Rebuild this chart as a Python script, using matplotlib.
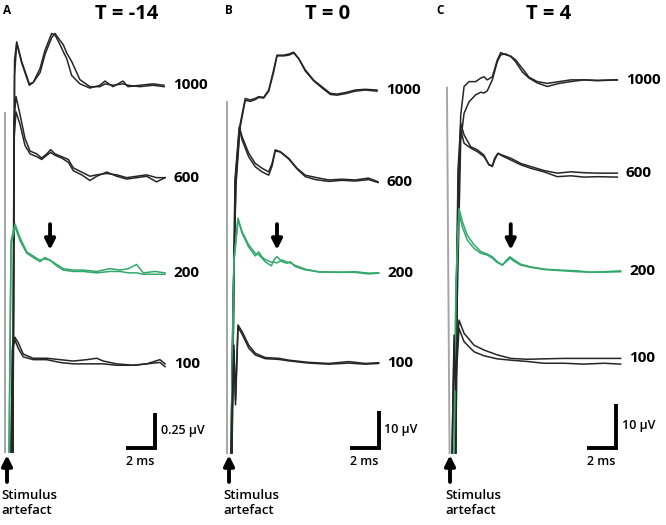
import matplotlib.pyplot as plt

plt.rcParams['font.family'] = ['Open Sans', 'DejaVu Sans']

# time in ms after the stimulus, amplitude in uV above the clipped artefact floor
# ---- panel A, T = -14
A1000_t = [0.41, 0.52, 0.67, 1.01, 1.54, 1.81, 2.28, 2.62, 3.08, 3.31, 3.66, 3.88, 4.12, 4.46, 5.03, 5.72, 6.41, 6.76, 7.31, 8.00, 8.34, 9.17, 10.07, 10.83]
A1000_a = [0.00, 2.80, 2.93, 2.79, 2.63, 2.64, 2.74, 2.87, 2.99, 2.98, 2.91, 2.86, 2.81, 2.69, 2.63, 2.60, 2.62, 2.65, 2.61, 2.65, 2.61, 2.62, 2.63, 2.62]
A1000_b = [0.00, 2.69, 2.92, 2.78, 2.62, 2.64, 2.71, 2.84, 2.96, 2.99, 2.94, 2.91, 2.85, 2.79, 2.66, 2.61, 2.61, 2.63, 2.62, 2.63, 2.62, 2.61, 2.62, 2.61]

A600_t = [0.41, 0.48, 0.62, 0.90, 1.24, 1.59, 2.05, 2.39, 2.74, 3.01, 3.31, 3.77, 4.23, 4.57, 5.15, 5.72, 6.19, 6.88, 7.57, 8.26, 8.94, 9.63, 10.32, 10.90]
A600_a = [0.00, 2.37, 2.54, 2.41, 2.24, 2.15, 2.13, 2.10, 2.13, 2.16, 2.13, 2.11, 2.09, 2.03, 2.00, 1.97, 1.98, 1.99, 1.98, 1.96, 1.97, 1.98, 1.96, 1.96]
A600_b = [0.00, 2.23, 2.43, 2.34, 2.19, 2.13, 2.11, 2.09, 2.12, 2.14, 2.12, 2.10, 2.07, 2.01, 1.98, 1.94, 1.97, 2.00, 1.97, 1.95, 1.96, 1.97, 1.93, 1.96]

A200_t = [0.14, 0.28, 0.55, 0.90, 1.36, 1.81, 2.28, 2.62, 2.97, 3.43, 3.88, 4.57, 5.26, 6.19, 7.10, 7.79, 8.37, 8.94, 9.40, 10.21, 10.90]
A200_a = [0.00, 1.51, 1.63, 1.53, 1.43, 1.40, 1.37, 1.38, 1.37, 1.34, 1.31, 1.30, 1.30, 1.29, 1.31, 1.30, 1.31, 1.34, 1.28, 1.29, 1.28]
A200_b = [0.00, 1.48, 1.61, 1.51, 1.42, 1.39, 1.36, 1.39, 1.37, 1.33, 1.30, 1.29, 1.29, 1.28, 1.29, 1.29, 1.28, 1.28, 1.27, 1.27, 1.27]

A100_t = [0.28, 0.38, 0.55, 0.78, 1.12, 1.81, 2.74, 3.66, 4.57, 5.50, 6.19, 6.64, 7.57, 8.71, 9.63, 10.55, 10.90]
A100_a = [0.00, 0.76, 0.82, 0.78, 0.70, 0.67, 0.67, 0.66, 0.65, 0.66, 0.67, 0.65, 0.63, 0.62, 0.63, 0.66, 0.63]
A100_b = [0.00, 0.73, 0.80, 0.74, 0.68, 0.66, 0.66, 0.64, 0.63, 0.63, 0.63, 0.63, 0.62, 0.62, 0.63, 0.64, 0.61]

A_art_t = [-0.17, -0.17]
A_art_v = [2.42, 0.00]

# ---- panel B, T = 0
B1000_t = [0.14, 0.28, 0.48, 0.76, 1.12, 1.47, 1.81, 2.05, 2.39, 2.74, 3.08, 3.31, 3.77, 4.12, 4.46, 4.81, 5.26, 5.84, 6.41, 6.99, 7.45, 8.02, 8.71, 9.40, 10.21]
B1000_a = [0.0, 41.7, 74.4, 89.4, 96.6, 96.2, 96.6, 97.1, 96.9, 98.9, 104.4, 108.4, 108.4, 108.7, 109.2, 107.5, 104.4, 101.6, 99.8, 98.0, 97.8, 98.2, 98.9, 99.1, 98.9]
B1000_b = [0.0, 40.3, 73.0, 88.6, 96.1, 95.8, 96.3, 96.9, 96.7, 98.6, 103.8, 108.2, 108.2, 108.4, 109.0, 107.4, 104.1, 101.4, 99.5, 97.7, 97.5, 97.9, 98.6, 98.9, 98.6]

B600_t = [0.21, 0.41, 0.71, 0.90, 1.36, 1.81, 2.28, 2.74, 2.97, 3.19, 3.54, 4.12, 4.69, 5.26, 5.95, 6.88, 7.79, 8.71, 9.63, 10.28]
B600_a = [0.0, 74.4, 88.9, 86.2, 81.7, 78.9, 77.6, 76.6, 78.9, 82.6, 82.1, 80.3, 77.6, 75.7, 75.1, 74.4, 74.6, 74.4, 74.9, 73.9]
B600_b = [0.0, 73.0, 88.6, 85.3, 80.7, 78.0, 76.6, 75.7, 78.2, 82.3, 82.0, 80.1, 77.4, 75.3, 74.5, 74.0, 74.3, 74.1, 74.5, 73.7]

B200_t = [0.14, 0.34, 0.62, 0.90, 1.36, 1.81, 2.05, 2.28, 2.50, 2.92, 3.10, 3.31, 3.66, 4.00, 4.23, 4.57, 5.26, 6.19, 7.57, 8.71, 9.63, 10.32]
B200_a = [0.0, 52.6, 64.0, 60.3, 56.7, 54.4, 54.0, 53.1, 52.1, 51.0, 52.6, 53.5, 52.1, 51.7, 52.1, 50.8, 49.9, 49.4, 49.2, 49.4, 49.0, 49.1]
B200_b = [0.0, 52.0, 63.5, 59.9, 56.1, 53.7, 54.8, 53.4, 52.7, 52.0, 52.0, 51.8, 52.6, 52.0, 51.8, 51.1, 50.1, 49.3, 49.3, 49.2, 48.8, 49.0]

B100_t = [0.14, 0.34, 0.45, 0.62, 0.90, 1.36, 1.81, 2.50, 3.43, 4.12, 5.48, 6.88, 8.26, 9.40, 10.32]
B100_a = [0.0, 29.4, 14.4, 34.9, 33.1, 29.4, 27.2, 26.0, 25.8, 25.3, 24.7, 24.4, 24.9, 24.4, 24.6]
B100_b = [0.0, 28.1, 13.1, 34.3, 32.4, 28.6, 26.7, 25.7, 25.5, 25.1, 24.5, 24.2, 24.5, 24.2, 24.4]

B_art_t = [-0.14, -0.14]
B_art_v = [95.6, 0.0]

# ---- panel C, T = 4
C1000_t = [0.41, 0.50, 0.74, 0.97, 1.31, 1.77, 2.12, 2.34, 2.57, 2.92, 3.26, 3.50, 3.84, 4.19, 4.53, 4.99, 5.45, 6.02, 6.71, 7.52, 8.33, 9.24, 10.16, 11.54]
C1000_a = [0.0, 46.1, 76.8, 83.3, 84.4, 84.4, 85.2, 85.5, 84.8, 85.5, 89.3, 91.0, 90.5, 90.2, 89.3, 87.4, 85.4, 84.4, 84.0, 84.4, 84.8, 84.8, 84.6, 84.8]
C1000_b = [0.0, 34.8, 71.1, 77.2, 79.8, 81.4, 82.0, 81.8, 82.3, 84.8, 88.9, 90.5, 90.7, 90.1, 88.9, 86.6, 85.2, 84.1, 83.3, 84.0, 84.4, 84.8, 84.7, 84.8]

C600_t = [0.34, 0.55, 0.74, 0.97, 1.43, 1.88, 2.34, 2.69, 2.92, 3.08, 3.31, 3.61, 4.19, 4.88, 5.57, 6.48, 7.40, 8.33, 9.24, 10.16, 11.54]
C600_a = [0.0, 64.3, 74.9, 72.3, 69.6, 68.9, 67.7, 65.5, 65.1, 66.6, 68.1, 67.7, 67.0, 65.8, 65.1, 64.2, 63.6, 63.9, 63.7, 63.6, 63.6]
C600_b = [0.0, 60.9, 73.4, 70.4, 69.3, 68.5, 67.4, 65.5, 65.3, 67.0, 68.1, 67.5, 66.6, 65.5, 64.7, 63.9, 62.8, 63.0, 62.7, 62.8, 62.7]

C200_t = [0.28, 0.41, 0.62, 0.85, 1.19, 1.66, 2.12, 2.57, 2.92, 3.26, 3.61, 3.91, 4.14, 4.41, 4.88, 5.57, 6.48, 7.40, 8.78, 9.70, 10.62, 11.77]
C200_a = [0.0, 39.3, 55.6, 52.6, 49.5, 47.3, 45.8, 45.2, 44.6, 43.5, 42.7, 43.9, 44.6, 43.9, 42.9, 42.3, 41.8, 41.6, 41.4, 41.1, 41.2, 41.4]
C200_b = [0.0, 37.0, 54.8, 51.4, 48.4, 46.5, 45.4, 45.0, 44.3, 43.3, 42.7, 43.6, 44.3, 43.6, 42.7, 42.2, 41.7, 41.5, 41.2, 41.1, 41.1, 41.2]

C100_t = [0.14, 0.28, 0.38, 0.62, 0.97, 1.66, 2.34, 3.26, 4.19, 5.33, 6.48, 7.86, 9.24, 10.62, 11.77]
C100_a = [0.0, 26.8, 16.6, 30.2, 27.2, 24.5, 23.4, 22.3, 21.5, 21.3, 21.4, 21.5, 21.5, 21.5, 21.5]
C100_b = [0.0, 24.5, 14.3, 28.3, 25.3, 23.0, 22.1, 21.4, 21.1, 20.8, 20.4, 20.4, 20.2, 20.4, 20.2]

C_art_t = [-0.21, -0.03]
C_art_v = [83.0, 0.0]

levels = ["1000", "600", "200", "100"]
titles = ["T = -14", "T = 0", "T = 4"]
letters = ["A", "B", "C"]
scale_uv = [0.25, 10, 10]
scale_labels = ["0.25 µV", "10 µV", "10 µV"]
scale_ms = 2
bump_t = [2.97, 3.31, 4.19]   # late component marked by the arrow

panels = [
    dict(traces=[(A1000_t, A1000_a, A1000_b), (A600_t, A600_a, A600_b),
                 (A200_t, A200_a, A200_b), (A100_t, A100_a, A100_b)],
         art=(A_art_t, A_art_v), xlim=(-0.483, 14.83), ylim=(-0.521, 3.229),
         bar=(8.21, 0.029), title_x=127, letter_x=3),
    dict(traces=[(B1000_t, B1000_a, B1000_b), (B600_t, B600_a, B600_b),
                 (B200_t, B200_a, B200_b), (B100_t, B100_a, B100_b)],
         art=(B_art_t, B_art_v), xlim=(-0.483, 14.83), ylim=(-19.62, 123.43),
         bar=(8.34, 1.36), title_x=328, letter_x=225),
    dict(traces=[(C1000_t, C1000_a, C1000_b), (C600_t, C600_a, C600_b),
                 (C200_t, C200_a, C200_b), (C100_t, C100_a, C100_b)],
         art=(C_art_t, C_art_v), xlim=(-0.414, 14.90), ylim=(-16.36, 102.95),
         bar=(9.45, 1.14), title_x=549, letter_x=436),
]

dark = "#262626"
green = "#33a86c"
W, H = 666, 525

fig = plt.figure(figsize=(6.66, 5.25), dpi=100)

for i, p in enumerate(panels):
    ax = fig.add_axes([i / 3, 0, 1 / 3, 1])
    ax.set_xlim(p["xlim"])
    ax.set_ylim(p["ylim"])
    ax.axis("off")

    # stimulus artefact
    ax.plot(p["art"][0], p["art"][1], color="#a6a6a6", lw=1.4)

    for lev, (t, a, b) in zip(levels, p["traces"]):
        col = green if lev == "200" else dark
        ax.plot(t, b, color=col, lw=1.1)
        ax.plot(t, a, color=col, lw=1.1)
        ax.text(t[-1] + 0.6, a[-1], lev, fontsize=11, fontweight="bold",
                ha="left", va="center")

    # scale bar
    t0, v0 = p["bar"]
    s = scale_uv[i]
    ax.plot([t0, t0 + scale_ms, t0 + scale_ms], [v0, v0, v0 + s], color="black",
            lw=2.8, solid_joinstyle="miter", solid_capstyle="butt")
    ax.annotate(scale_labels[i], xy=(t0 + scale_ms, v0 + s / 2), xytext=(4, 0),
                textcoords="offset points", fontsize=9, fontweight="semibold",
                ha="left", va="center")
    ax.annotate(f"{scale_ms} ms", xy=(t0 + scale_ms / 2, v0), xytext=(0, -5),
                textcoords="offset points", fontsize=9, fontweight="semibold",
                ha="center", va="top")

    # arrows
    tr = ax.get_xaxis_transform()
    arw = dict(arrowstyle="-|>", lw=2.8, color="black", mutation_scale=15,
               shrinkA=0, shrinkB=0)
    ax.annotate("", xy=(0, 0.133), xytext=(0, 0.082), xycoords=tr, arrowprops=arw)
    ax.annotate("", xy=(bump_t[i], 0.524), xytext=(bump_t[i], 0.573), xycoords=tr,
                arrowprops=arw)
    ax.text(0.008, 0.069, "Stimulus\nartefact", transform=ax.transAxes, fontsize=9.5,
            fontweight="semibold", ha="left", va="top", linespacing=1.25)

    fig.text(p["title_x"] / W, 1 - 14 / H, titles[i], fontsize=14.5, fontweight="bold",
             ha="center", va="center")
    fig.text(p["letter_x"] / W, 1 - 11 / H, letters[i], fontsize=8.5, fontweight="bold",
             ha="left", va="center")

fig.savefig("out.png", dpi=100)
